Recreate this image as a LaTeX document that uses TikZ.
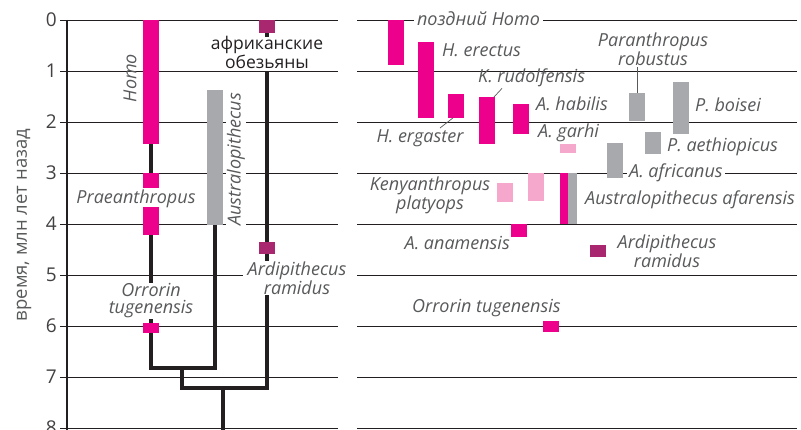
\documentclass[tikz,border=0pt]{standalone}
\usepackage{fontspec}
\setmainfont{Open Sans}
\usetikzlibrary{backgrounds}
\definecolor{hommag}{HTML}{EC008C}
\definecolor{hompink}{HTML}{F5A8CC}
\definecolor{ausgray}{HTML}{A7A9AC}
\definecolor{apemag}{HTML}{A8276F}
\definecolor{inkgray}{HTML}{58595B}
\definecolor{ink}{HTML}{231F20}
% bar of one taxon: [width]{name}{left x}{from}{to}{colour}
\newcommand\taxbar[6][16]{%
  \fill[#6] (#3,#4) rectangle (#3+#1,#5);
  \coordinate (#2) at (#3+#1/2,#4);
  \coordinate (#2-b) at (#3+#1/2,#5);}

\begin{document}
\begin{tikzpicture}[x=1pt, y=-51pt,
  grid/.style={ink, line width=0.9pt},
  tree/.style={ink, line width=3.8pt},
  leader/.style={inkgray, line width=0.7pt},
  taxon/.style={font=\fontsize{18}{17}\selectfont\itshape, text=inkgray, inner sep=1pt, align=center},
  cover/.style={fill=white}]
  \useasboundingbox (0,-0.392) rectangle (801,8.039);

  % time scale
  \node[rotate=90, text=inkgray, font=\fontsize{18.5}{18.5}\selectfont] (axtitle) at (24,4.02) {время, млн лет назад};
  \foreach \t in {0,...,8}
    \node[anchor=east, inner sep=0pt, text=ink!85, font=\fontsize{19}{19}\selectfont] (tick\t) at (57,\t) {\t};

  % tree (left)
  \taxbar{homo}{143}{0}{2.43}{hommag}
  \taxbar{prae1}{143}{3.0}{3.29}{hommag}
  \taxbar{prae2}{143}{3.67}{4.22}{hommag}
  \taxbar{orr}{143}{5.94}{6.14}{hommag}
  \taxbar{aus}{207}{1.37}{4.02}{ausgray}
  \taxbar{apes}{259}{0}{0.25}{apemag}
  \taxbar{ardi}{259}{4.35}{4.59}{apemag}
  \coordinate (j1) at (182,6.82);
  \coordinate (j2) at (223,7.22);
  \coordinate (apestem) at (267,1);
  \coordinate (root) at (223,8.2);

  \node[taxon, rotate=90] (homolbl) at (130,1.14) {Homo};
  \node[taxon, rotate=90, cover, inner sep=1.5pt] (auslbl) at (236,2.73) {Australopithecus};
  \node[taxon] (praelbl) at (136,3.51) {Praeanthropus};
  \node[taxon, cover] (orrlbl) at (151,5.51) {Orrorin\\tugenensis};
  \node[taxon, cover, inner xsep=5pt] (ardilbl) at (297,5.06) {Ardipithecus\\ramidus};
  \node[text=ink, align=center, font=\fontsize{17.5}{19}\selectfont] (apeslbl) at (267,0.64) {африканские\\обезьяны};

  \begin{scope}[on background layer]
    \foreach \t in {0,...,8} {
      \draw[grid] (60,\t) -- (338,\t);
      \draw[grid] (357,\t) -- (797,\t);
    }
    \draw[ink, line width=1.6pt] (67,0) -- (67,8.2);
    \draw[tree] (homo-b) -- (prae1);
    \draw[tree] (prae2-b) -- (orr-b) |- (j1) -| (aus-b);
    \draw[tree] (j1) |- (apestem |- j2) -- (apestem);
    \draw[tree] (j2) -- (root);
    \draw[tree] (apes-b) -- ++(0,0.08);
  \end{scope}

  % species ranges (right)
  \taxbar{late}{388}{0}{0.88}{hommag}
  \taxbar{erectus}{418}{0.43}{1.92}{hommag}
  \taxbar{ergaster}{448}{1.45}{1.92}{hommag}
  \taxbar{rudolf}{479}{1.51}{2.43}{hommag}
  \taxbar{habilis}{513}{1.65}{2.24}{hommag}
  \taxbar{garhi}{560}{2.43}{2.61}{hompink}
  \taxbar{kenya1}{497}{3.2}{3.57}{hompink}
  \taxbar{kenya2}{528}{3.0}{3.55}{hompink}
  \taxbar[8]{afarm}{560}{3.0}{4.0}{hommag}
  \taxbar[9]{afarg}{568}{3.0}{4.0}{ausgray}
  \taxbar{anam}{511}{4.0}{4.25}{hommag}
  \taxbar{ardiR}{590}{4.41}{4.65}{apemag}
  \taxbar{orrR}{543}{5.9}{6.12}{hommag}
  \taxbar{robustus}{629}{1.43}{1.98}{ausgray}
  \taxbar{boisei}{673}{1.21}{2.24}{ausgray}
  \taxbar{aethiop}{645}{2.2}{2.63}{ausgray}
  \taxbar{africanus}{607}{2.42}{3.1}{ausgray}

  \node[taxon, cover, inner xsep=3pt] (latelbl) at (478.5,-0.02) {поздний Homo};
  \node[taxon, anchor=west] (erectuslbl) at (441,0.59) {H. erectus};
  \node[taxon] (ergasterlbl) at (420,2.31) {H. ergaster};
  \node[taxon, anchor=west] (rudolflbl) at (477,1.14) {K. rudolfensis};
  \node[taxon, anchor=west] (habilislbl) at (535,1.65) {A. habilis};
  \node[taxon, anchor=west] (garhilbl) at (537,2.22) {A. garhi};
  \node[taxon] (robustuslbl) at (653,0.57) {Paranthropus\\robustus};
  \node[taxon, anchor=west] (boiseilbl) at (694,1.67) {P. boisei};
  \node[taxon, anchor=west] (aethioplbl) at (666,2.49) {P. aethiopicus};
  \node[taxon, anchor=west, cover, inner xsep=2pt] (africanuslbl) at (627,3.0) {A. africanus};
  \node[taxon] (kenyalbl) at (430,3.44) {Kenyanthropus\\platyops};
  \node[taxon, anchor=west] (afarlbl) at (584,3.53) {Australopithecus afarensis};
  \node[taxon, anchor=east] (anamlbl) at (511,4.37) {A. anamensis};
  \node[taxon] (ardiRlbl) at (667,4.53) {Ardipithecus\\ramidus};
  \node[taxon, anchor=west] (orrRlbl) at (411,5.65) {Orrorin tugenensis};

  \draw[leader] ([xshift=-3pt]ergaster-b) -- ([xshift=20pt]ergasterlbl.north);
  \draw[leader] ([xshift=7pt]rudolf) -- ([xshift=25pt]rudolflbl.south west);
  \draw[leader] (robustus) -- (robustus |- robustuslbl.south);
\end{tikzpicture}
\end{document}
